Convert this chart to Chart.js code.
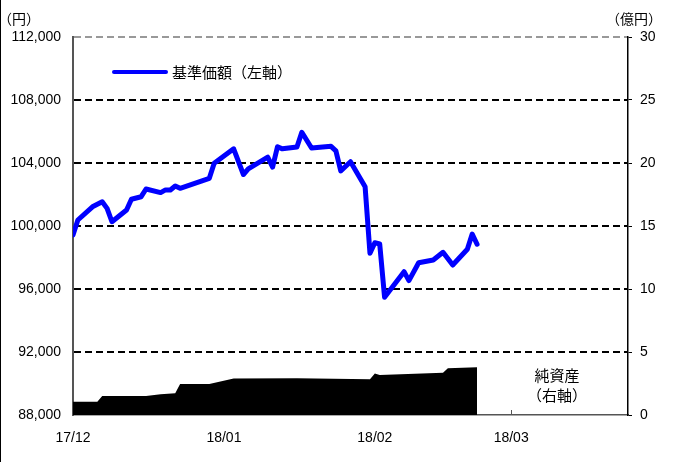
<!DOCTYPE html>
<html lang="ja">
<head>
<meta charset="utf-8">
<script src="https://cdn.jsdelivr.net/npm/chart.js@4.4.1/dist/chart.umd.min.js"></script>
<style>
  html, body { margin: 0; padding: 0; background: #fff; }
  #wrap { width: 673px; height: 462px; position: relative; }
</style>
</head>
<body>
<div id="wrap"><canvas id="chart" width="673" height="462"></canvas></div>
<script>
// x axis is counted in days from 2017/12/01
const tickDays = [0, 31, 62, 90];
const tickLabels = ['17/12', '18/01', '18/02', '18/03'];

// 基準価額 (円), left axis
const navDays = [0, 1, 4, 6, 7, 8, 11, 12, 14, 15, 18, 19, 20, 21, 22, 28, 29, 33, 35, 36,
  40, 41, 42, 43, 46, 47, 49, 53, 54, 55, 57, 60, 61, 62, 63, 64, 68, 69, 71, 74,
  76, 78, 81, 82, 83];
const navValues = [99430, 100380, 101220, 101540, 101120, 100270, 101020, 101700, 101860, 102350,
  102120, 102290, 102290, 102540, 102390, 103030, 103980, 104900, 103270, 103630,
  104370, 103740, 105030, 104900, 105020, 105950, 104950, 105060, 104770, 103500,
  104080, 102490, 98270, 98940, 98860, 95470, 97100, 96530, 97670, 97840,
  98330, 97520, 98520, 99490, 98840];

// 純資産 (億円), right axis
const assetDays = [0, 5, 6, 15, 18, 21, 22, 28, 33, 46, 61, 62, 63, 76, 77, 83];
const assetValues = [1.05, 1.05, 1.5, 1.5, 1.65, 1.72, 2.46, 2.46, 2.9, 2.92, 2.83, 3.3, 3.17, 3.36, 3.72, 3.78];

const jpFont = '"Noto Sans CJK JP", sans-serif';
const numFont = { family: '"Liberation Sans", Arial, sans-serif', size: 14 };

function toPoints(days, values) {
  return days.map((d, i) => ({ x: d, y: values[i] }));
}

/**
 * Texts and small marks that are not part of the data
 */
const extras = {
  id: 'extras',
  beforeDatasetsDraw(chart) {
    // short inward tick marks on the date axis
    const ctx = chart.ctx;
    const xs = chart.scales.x;
    const bottom = chart.chartArea.bottom;
    ctx.save();
    ctx.strokeStyle = '#555';
    ctx.lineWidth = 1;
    tickDays.forEach(d => {
      const px = Math.round(xs.getPixelForValue(d)) + 0.5;
      ctx.beginPath();
      ctx.moveTo(px, bottom);
      ctx.lineTo(px, bottom - 5);
      ctx.stroke();
    });
    ctx.restore();
  },
  afterDraw(chart) {
    const ctx = chart.ctx;
    const area = chart.chartArea;
    ctx.save();
    ctx.fillStyle = '#000';
    ctx.fillRect(0, 0, 1, chart.height);

    ctx.textBaseline = 'middle';
    ctx.font = '14px ' + jpFont;
    ctx.textAlign = 'left';
    ctx.fillText('（円）', -2, 19);
    ctx.textAlign = 'right';
    ctx.fillText('（億円）', chart.width - 11, 19);

    // legend for the line
    ctx.strokeStyle = '#0000ff';
    ctx.lineWidth = 4;
    ctx.lineCap = 'round';
    ctx.beginPath();
    ctx.moveTo(area.left + 41, 72);
    ctx.lineTo(area.left + 93, 72);
    ctx.stroke();
    ctx.font = '15px ' + jpFont;
    ctx.textAlign = 'left';
    ctx.fillText('基準価額（左軸）', area.left + 99, 72);

    // label for the area
    ctx.textAlign = 'center';
    ctx.fillText('純資産', 557, 375);
    ctx.fillText('（右軸）', 557, 395);
    ctx.restore();
  }
};

new Chart(document.getElementById('chart'), {
  type: 'line',
  data: {
    datasets: [
      {
        label: '基準価額（左軸）',
        data: toPoints(navDays, navValues),
        yAxisID: 'y',
        borderColor: '#0000ff',
        borderWidth: 5,
        borderJoinStyle: 'round',
        borderCapStyle: 'round',
        pointRadius: 0,
        tension: 0,
        fill: false,
        order: 0
      },
      {
        label: '純資産（右軸）',
        data: toPoints(assetDays, assetValues),
        yAxisID: 'y2',
        borderColor: '#000',
        borderWidth: 0,
        backgroundColor: '#000',
        pointRadius: 0,
        tension: 0,
        fill: 'origin',
        order: 1
      }
    ]
  },
  options: {
    responsive: false,
    animation: false,
    layout: { padding: { top: 37, left: 0, right: 0, bottom: 0 } },
    plugins: {
      legend: { display: false },
      tooltip: { enabled: false }
    },
    scales: {
      x: {
        type: 'linear',
        min: 0,
        max: 114,
        afterFit: s => { s.height = 47; },
        afterBuildTicks: s => { s.ticks = tickDays.map(v => ({ value: v })); },
        grid: { display: false },
        border: { display: true, color: '#555', width: 1.5 },
        ticks: {
          font: numFont,
          color: '#000',
          padding: 7,
          maxRotation: 0,
          autoSkip: false,
          callback: v => tickLabels[tickDays.indexOf(v)]
        }
      },
      y: {
        position: 'left',
        min: 88000,
        max: 112000,
        afterFit: s => { s.width = 73; },
        ticks: {
          stepSize: 4000,
          font: numFont,
          color: '#000',
          padding: 12,
          callback: v => v.toLocaleString('en-US')
        },
        grid: {
          drawTicks: false,
          lineWidth: 2,
          color: c => {
            if (c.tick.value === 112000) return '#999';
            if (c.tick.value === 88000) return 'rgba(0,0,0,0)';
            return '#000';
          }
        },
        border: { color: '#555', width: 2, dash: [7, 4] }
      },
      y2: {
        position: 'right',
        min: 0,
        max: 30,
        afterFit: s => { s.width = 45; },
        ticks: {
          stepSize: 5,
          font: numFont,
          color: '#000',
          padding: 8
        },
        grid: { drawOnChartArea: false, drawTicks: true, tickLength: 4, tickColor: '#000' },
        border: { color: '#000', width: 1.5 }
      }
    }
  },
  plugins: [extras]
});
</script>
</body>
</html>
